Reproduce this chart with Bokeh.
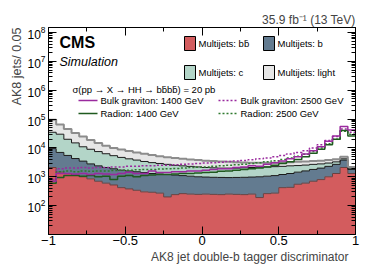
import math
import numpy as np
from bokeh.plotting import figure
from bokeh.models import Label, FixedTicker, LinearAxis, LogAxis, CustomJSTickFormatter, Range1d, Title
from bokeh.embed import file_html
from bokeh.resources import INLINE

# ---------------- data ----------------
bin_low, bin_high, n_bins = -1.0, 1.0, 40

multijets_bb = [2100, 1450, 1300, 1150, 1000, 850, 700, 600, 520, 420,
                380, 340, 300, 290, 270, 200, 240, 260, 250, 245,
                250, 245, 240, 250, 245, 240, 250, 190, 260, 270,
                420, 430, 550, 600, 700, 800, 1000, 1300, 2100, 1300]
multijets_b = [7400, 5550, 4200, 3150, 2500, 1950, 1700, 1500, 1380, 1280,
               1220, 1160, 1100, 1010, 980, 1000, 910, 840, 800, 755,
               730, 715, 710, 690, 705, 720, 730, 810, 790, 830,
               780, 870, 900, 1000, 1100, 1200, 1300, 1400, 1700, 500]
multijets_c = [25500, 23000, 14500, 10700, 7500, 6200, 5100, 4200, 3500, 3000,
               2600, 2300, 2000, 1800, 1650, 1500, 1350, 1300, 1250, 1200,
               1120, 1090, 1050, 1060, 1050, 1090, 1120, 1150, 1150, 1150,
               1100, 1100, 1000, 950, 900, 800, 700, 600, 400, 200]
multijets_light = [60000, 35000, 25000, 18000, 14000, 10000, 7500, 5700, 4600, 4100,
                   3600, 3200, 2900, 2600, 2300, 2100, 2000, 1800, 1700, 1600,
                   1500, 1450, 1400, 1300, 1200, 1100, 1000, 950, 900, 850,
                   850, 800, 850, 850, 800, 800, 800, 800, 800, 200]

graviton_1400 = [700, 1300, 1300, 1250, 1300, 1200, 1300, 1250, 1200, 1300,
                 1450, 1300, 1300, 1600, 1400, 1400, 1500, 1500, 1600, 1600,
                 1700, 1800, 1900, 1900, 2100, 2200, 2400, 2300, 2700, 3100,
                 3500, 4200, 5000, 6200, 8000, 11000, 17000, 26000, 55000, 42000]
radion_1400 = [600, 950, 1100, 1100, 1050, 1100, 1000, 1050, 800, 1050,
               1100, 1000, 1100, 1150, 1200, 1200, 1250, 1300, 1300, 1350,
               1400, 1450, 1550, 1600, 1700, 1800, 1900, 2000, 2200, 2500,
               2900, 3300, 4000, 5000, 6500, 9000, 13000, 20000, 40000, 26000]
graviton_2500 = [800, 1900, 2000, 2000, 2100, 2000, 2100, 2100, 2200, 2200,
                 2300, 2300, 2400, 2400, 2500, 2500, 2600, 2700, 2800, 2900,
                 3000, 3100, 3200, 3400, 3500, 3700, 3900, 4200, 4500, 5000,
                 5500, 6200, 7000, 8000, 10000, 13000, 18000, 25000, 45000, 35000]
radion_2500 = [700, 1500, 1600, 1500, 1600, 1550, 1600, 1600, 1650, 1700,
               1700, 1750, 1800, 1800, 1850, 1900, 1950, 2000, 2100, 2150,
               2200, 2300, 2400, 2500, 2600, 2700, 2900, 3100, 3300, 3600,
               4000, 4500, 5200, 6000, 7500, 10000, 14000, 20000, 38000, 30000]

x_ticks = [-1, -0.5, 0, 0.5, 1]
x_tick_labels = {-1: "\u22121", -0.5: "\u22120.5", 0: "0", 0.5: "0.5", 1: "1"}
x_minor = [-0.75, -0.25, 0.25, 0.75]
y_ticks = [1e2, 1e3, 1e4, 1e5, 1e6, 1e7, 1e8]

stack_names = ["Multijets: b\u0062\u0304", "Multijets: b", "Multijets: c", "Multijets: light"]
stack_colors = ["#d35c5e", "#637b90", "#b3d5c8", "#e6e6e6"]
stack_edges = ["#6a4040", "#1a1a1a", "#1a1a1a", "#8c8c8c"]

# ---------------- layout ----------------
W, H = 366, 266
FL, FR, FT, FB = 48, 355, 27, 234          # frame edges in page pixels
BL, BR, BT, BB = FL, W - FR, FT, H - FB
FW, FH = FR - FL, FB - FT
XR = (-1.0, 1.0)
YR = (10.0, 1.5e8)
FONT = "Liberation Sans"

def px_x(px):
    return XR[0] + (px - FL) / FW * (XR[1] - XR[0])

def px_y(py):
    l0, l1 = math.log10(YR[0]), math.log10(YR[1])
    return 10 ** (l0 + (FB - py) / FH * (l1 - l0))

p = figure(width=W, height=H, output_backend="svg", toolbar_location=None,
           y_axis_type="log", x_range=Range1d(*XR), y_range=Range1d(*YR),
           min_border_left=BL, min_border_right=BR, min_border_top=BT, min_border_bottom=BB)
p.xgrid.visible = False
p.ygrid.visible = False
p.outline_line_color = "black"
p.background_fill_color = "white"
p.border_fill_color = "white"

edges = np.linspace(bin_low, bin_high, n_bins + 1)

def ext(vals):
    v = list(vals)
    return v + [v[-1]]

# stacked histograms
bottom = np.full(n_bins, 1.0)
tops = []
for vals, col in zip([multijets_bb, multijets_b, multijets_c, multijets_light], stack_colors):
    top = bottom + np.array(vals, dtype=float)
    p.varea_step(x=edges, y1=ext(bottom), y2=ext(top), step_mode="after", fill_color=col)
    tops.append(top)
    bottom = top

def step(vals, **kw):
    p.step(x=edges, y=ext(vals), mode="after", **kw)

for top, ec, lw in zip(tops, stack_edges, [1, 1, 1, 2]):
    step(top, line_color=ec, line_width=lw)

purple = "#9a2a9e"
green = "#1f5a1f"
green2 = "#2f7a2f"
step(radion_2500, line_color=green2, line_width=1.5, line_dash="2 2")
step(graviton_2500, line_color=purple, line_width=1.5, line_dash="2 2")
step(radion_1400, line_color=green, line_width=1.5)
step(graviton_1400, line_color=purple, line_width=1.5)

# ---------------- axes ----------------
xa = p.xaxis[0]
xa.ticker = FixedTicker(ticks=x_ticks, minor_ticks=x_minor)
xa.major_label_overrides = x_tick_labels
ya = p.yaxis[0]
y_minor = [k * 10 ** e for e in range(1, 9) for k in range(2, 10)]
ya.ticker = FixedTicker(ticks=y_ticks, minor_ticks=y_minor)

for ax in (xa, ya):
    ax.major_tick_in = 8
    ax.major_tick_out = 0
    ax.minor_tick_in = 4
    ax.minor_tick_out = 0
    ax.axis_line_color = "black"
    ax.major_label_text_font = FONT
    ax.major_label_text_color = "black"
xa.major_label_text_font_size = "13px"
xa.major_label_standoff = 1
ya.major_label_text_font_size = "12px"
ya.major_label_standoff = 3

blank = CustomJSTickFormatter(code="return ''")
top_ax = LinearAxis(ticker=FixedTicker(ticks=x_ticks, minor_ticks=x_minor), formatter=blank,
                    major_tick_in=8, major_tick_out=0, minor_tick_in=4, minor_tick_out=0,
                    major_label_text_font_size="1px", major_label_standoff=0)
right_ax = LogAxis(ticker=FixedTicker(ticks=y_ticks, minor_ticks=y_minor), formatter=blank,
                   major_tick_in=8, major_tick_out=0, minor_tick_in=4, minor_tick_out=0,
                   major_label_text_font_size="1px", major_label_standoff=0)
p.add_layout(top_ax, "above")
p.add_layout(right_ax, "right")

# titles (outside the frame)
p.title = Title(text="35.9 fb\u207b\u00b9 (13 TeV)", align="right", text_font=FONT,
                text_font_size="12px", text_font_style="normal", standoff=2)
p.add_layout(Title(text="AK8 jet double-b tagger discriminator", align="right", offset=7,
                   text_font=FONT, text_font_size="12px", text_font_style="normal", standoff=0),
             "below")
p.add_layout(Title(text="AK8 jets/ 0.05", align="right", text_font=FONT,
                   text_font_size="12.5px", text_font_style="normal", standoff=2),
             "left")

def label(px, py, text, size, align="left", style="normal"):
    p.add_layout(Label(x=px_x(px), y=px_y(py), text=text, text_font=FONT,
                       text_font_size=f"{size}px", text_font_style=style, text_align=align,
                       text_baseline="middle", text_color="black"))

# CMS text
label(59, 42, "CMS", 16, style="bold")
label(59, 61, "Simulation", 12.5, style="italic")

# multijet legend (2 columns)
box_w, box_h = 11, 14
cols_px = [184, 263]
rows_px = [43, 72]
for i, (name, col) in enumerate(zip(stack_names, stack_colors)):
    cx = cols_px[i % 2]
    cy = rows_px[i // 2]
    p.quad(left=[px_x(cx)], right=[px_x(cx + box_w)], bottom=[px_y(cy + box_h / 2)],
           top=[px_y(cy - box_h / 2)], fill_color=col, line_color="black", line_width=1)
    label(cx + box_w + 3, cy, name, 9.5)

# signal legend
label(72, 89, "\u03c3(pp \u2192 X \u2192 HH \u2192 b\u0062\u0304b\u0062\u0304) = 20 pb", 9.5)
sig = [("Bulk graviton: 1400 GeV", purple, None, 78, 100),
       ("Bulk graviton: 2500 GeV", purple, "2 2", 218, 100),
       ("Radion: 1400 GeV", green, None, 78, 113),
       ("Radion: 2500 GeV", green2, "2 2", 218, 113)]
for name, col, dash, sx, sy in sig:
    kw = dict(line_color=col, line_width=1.5)
    if dash:
        kw["line_dash"] = dash
    p.line(x=[px_x(sx), px_x(sx + 19)], y=[px_y(sy), px_y(sy)], **kw)
    label(sx + 22, sy, name, 9.5)

open("out.html", "w").write(file_html(p, INLINE))
